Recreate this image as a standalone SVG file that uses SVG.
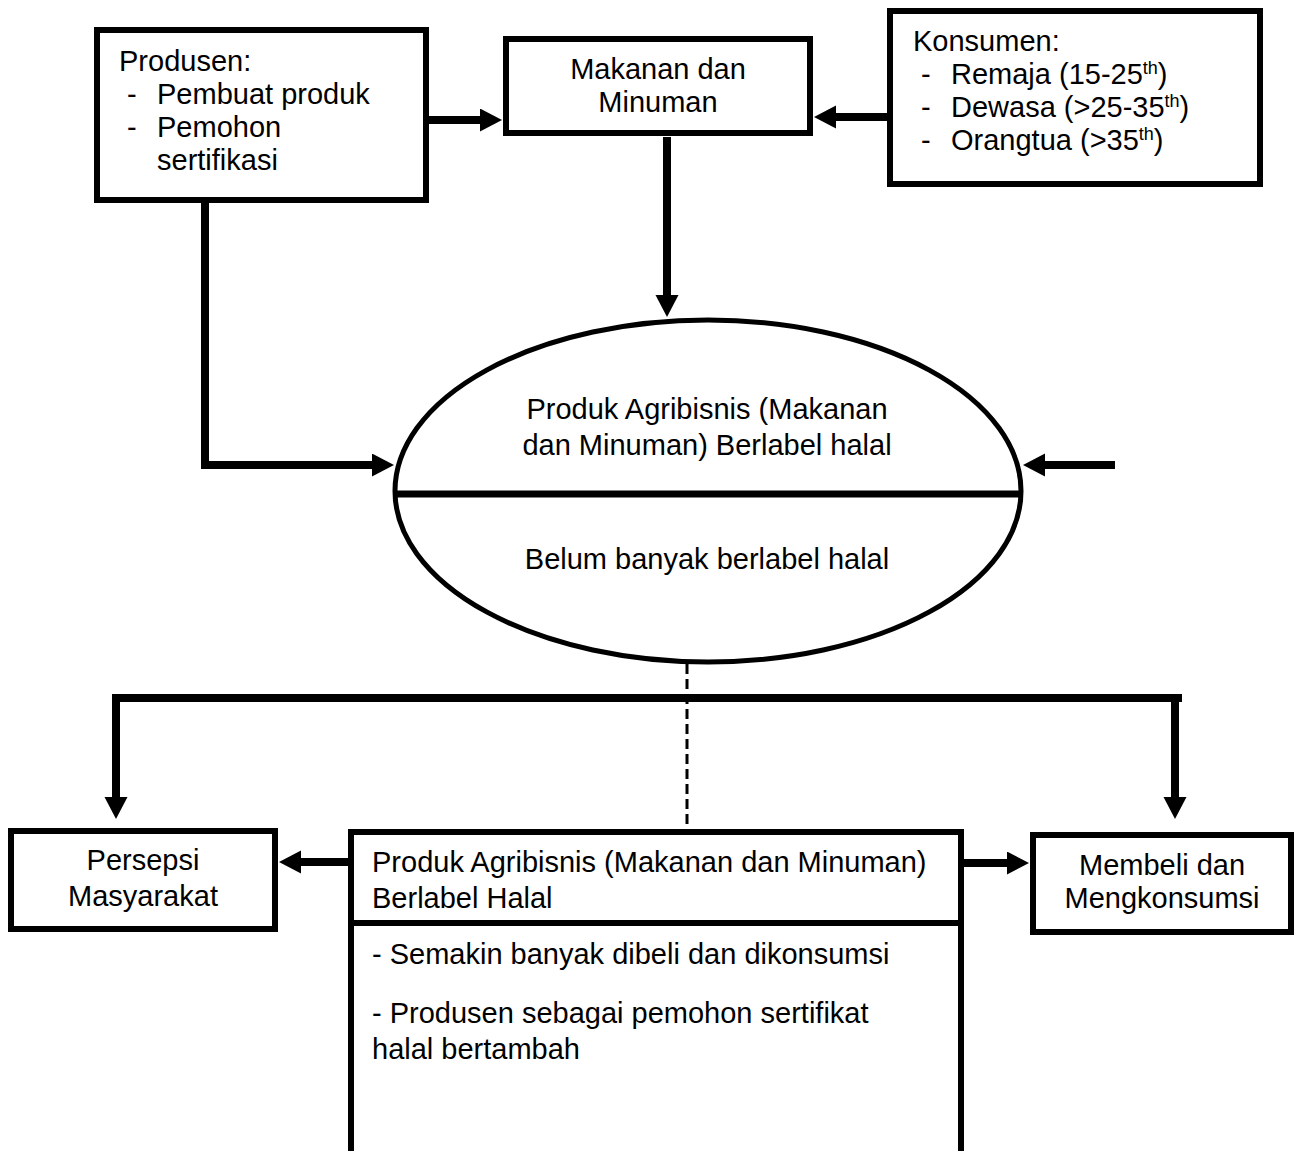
<svg xmlns="http://www.w3.org/2000/svg" width="1298" height="1151" viewBox="0 0 1298 1151">
<defs>
<style>
.box{fill:#fff;stroke:#000;stroke-width:6}
.line{fill:none;stroke:#000;stroke-width:8;stroke-linejoin:miter}
.dash{fill:none;stroke:#000;stroke-width:3;stroke-dasharray:10 5}
.t{font-family:"Liberation Sans",Arial,sans-serif;font-size:29px;fill:#000}
.c{text-anchor:middle}
.sup{font-size:18px}
</style>
<marker id="ah" markerUnits="userSpaceOnUse" markerWidth="24" markerHeight="24" refX="1" refY="11.5" orient="auto">
<path d="M0,0 L22,11.5 L0,23 Z" fill="#000"/>
</marker>
</defs>
<rect width="1298" height="1151" fill="#fff"/>

<g id="connectors">
<path class="line" d="M429,120 H481" marker-end="url(#ah)"/>
<path class="line" d="M887,117 H835" marker-end="url(#ah)"/>
<path class="line" d="M667,137 V296" marker-end="url(#ah)"/>
<path class="line" d="M205,203 V465 H373" marker-end="url(#ah)"/>
<path class="line" d="M1115,465 H1044" marker-end="url(#ah)"/>
<path class="dash" d="M687,664 V829"/>
<path class="line" d="M112,698 H1182"/>
<path class="line" d="M116,698 V798" marker-end="url(#ah)"/>
<path class="line" d="M1175,698 V798" marker-end="url(#ah)"/>
<path class="line" d="M348,862 H300" marker-end="url(#ah)"/>
<path class="line" d="M964,863 H1008" marker-end="url(#ah)"/>
</g>

<g id="produsen">
<rect class="box" x="97" y="30" width="329" height="170"/>
<text class="t" x="119" y="71">Produsen:</text>
<text class="t" x="127" y="104">-</text>
<text class="t" x="157" y="104">Pembuat produk</text>
<text class="t" x="127" y="137">-</text>
<text class="t" x="157" y="137">Pemohon</text>
<text class="t" x="157" y="170">sertifikasi</text>
</g>

<g id="makanan">
<rect class="box" x="506" y="39" width="304" height="94"/>
<text class="t c" x="658" y="79">Makanan dan</text>
<text class="t c" x="658" y="112">Minuman</text>
</g>

<g id="konsumen">
<rect class="box" x="890" y="11" width="370" height="173"/>
<text class="t" x="913" y="51">Konsumen:</text>
<text class="t" x="921" y="84">-</text>
<text class="t" x="951" y="84">Remaja (15-25<tspan class="sup" dy="-10">th</tspan><tspan dy="10">)</tspan></text>
<text class="t" x="921" y="117">-</text>
<text class="t" x="951" y="117">Dewasa (&gt;25-35<tspan class="sup" dy="-10">th</tspan><tspan dy="10">)</tspan></text>
<text class="t" x="921" y="150">-</text>
<text class="t" x="951" y="150">Orangtua (&gt;35<tspan class="sup" dy="-10">th</tspan><tspan dy="10">)</tspan></text>
</g>

<g id="produk-ellipse">
<ellipse cx="708" cy="491" rx="313" ry="171" fill="#fff" stroke="#000" stroke-width="5"/>
<path d="M396,494 H1020" stroke="#000" stroke-width="7"/>
<text class="t c" x="707" y="419">Produk Agribisnis (Makanan</text>
<text class="t c" x="707" y="455">dan Minuman) Berlabel halal</text>
<text class="t c" x="707" y="569">Belum banyak berlabel halal</text>
</g>

<g id="persepsi">
<rect class="box" x="11" y="831" width="264" height="98"/>
<text class="t c" x="143" y="870">Persepsi</text>
<text class="t c" x="143" y="906">Masyarakat</text>
</g>

<g id="produk-halal">
<path d="M351,1151 V832 H961 V1151" fill="#fff" stroke="#000" stroke-width="6"/>
<path d="M351,923 H961" stroke="#000" stroke-width="6"/>
<text class="t" x="372" y="872">Produk Agribisnis (Makanan dan Minuman)</text>
<text class="t" x="372" y="908">Berlabel Halal</text>
<text class="t" x="372" y="964">- Semakin banyak dibeli dan dikonsumsi</text>
<text class="t" x="372" y="1023">- Produsen sebagai pemohon sertifikat</text>
<text class="t" x="372" y="1059">halal bertambah</text>
</g>

<g id="membeli">
<rect class="box" x="1033" y="835" width="258" height="97"/>
<text class="t c" x="1162" y="875">Membeli dan</text>
<text class="t c" x="1162" y="908">Mengkonsumsi</text>
</g>
</svg>
